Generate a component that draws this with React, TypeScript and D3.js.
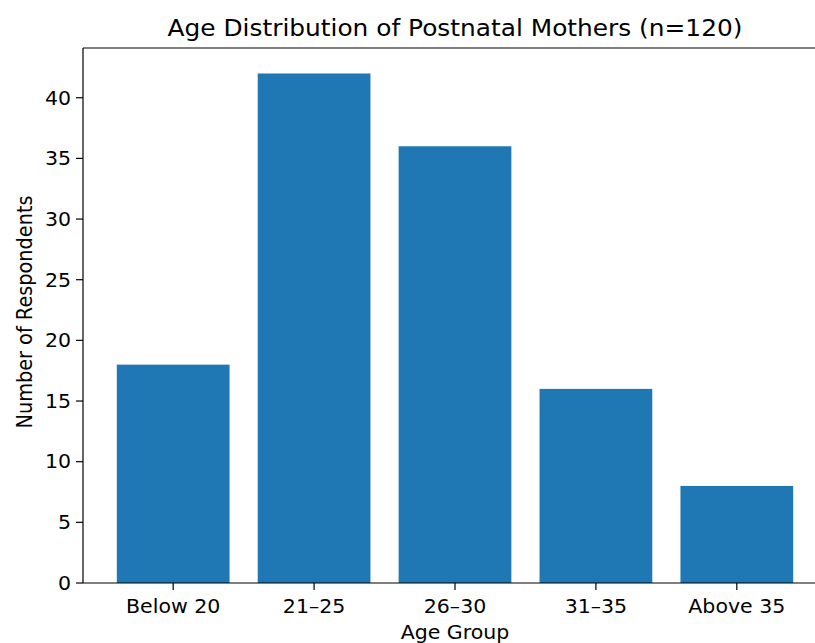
import React from "react";
import * as d3 from "d3";

const categories = ["Below 20", "21–25", "26–30", "31–35", "Above 35"];
const counts = [18, 42, 36, 16, 8];
const yTicks = [0, 5, 10, 15, 20, 25, 30, 35, 40];

const W = 815;
const H = 643;
const M = { left: 83, top: 48, bottom: 583 };
const axesRight = 827;
const FS = 19;
const HS = 1.08;

export default function App() {
  const x = d3
    .scaleLinear()
    .domain([-0.64, categories.length - 1 + 0.64])
    .range([M.left, axesRight]);
  const y = d3.scaleLinear().domain([0, 44.1]).range([M.bottom, M.top]);
  const bw = x(0.4) - x(-0.4);
  const cx = (M.left + axesRight) / 2;

  const txt = (
    tx: number,
    ty: number,
    s: string,
    anchor: string,
    size: number,
    hs: number = HS
  ) => (
    <text
      transform={`translate(${tx},${ty}) scale(${hs},1)`}
      textAnchor={anchor as any}
      fontSize={size}
      fontFamily="DejaVu Sans"
      fill="#000"
    >
      {s}
    </text>
  );

  return (
    <svg
      width={W}
      height={H}
      style={{ position: "absolute", left: 0, top: 0, background: "#fff" }}
    >
      {counts.map((v, i) => (
        <rect
          key={i}
          x={x(i) - bw / 2}
          y={y(v)}
          width={bw}
          height={y(0) - y(v)}
          fill="#1f77b4"
        />
      ))}
      <line x1={M.left} x2={M.left} y1={M.top} y2={M.bottom} stroke="#000" strokeWidth={1.2} />
      <line x1={M.left} x2={axesRight} y1={M.bottom} y2={M.bottom} stroke="#000" strokeWidth={1.2} />
      <line x1={M.left} x2={axesRight} y1={M.top} y2={M.top} stroke="#000" strokeWidth={1.2} />
      <line x1={axesRight} x2={axesRight} y1={M.top} y2={M.bottom} stroke="#000" strokeWidth={1.2} />
      {yTicks.map((t) => (
        <g key={t}>
          <line x1={M.left - 7} x2={M.left} y1={y(t)} y2={y(t)} stroke="#000" strokeWidth={1.2} />
          {txt(M.left - 12, y(t) + 6.8, String(t), "end", FS)}
        </g>
      ))}
      {categories.map((c, i) => (
        <g key={c}>
          <line x1={x(i)} x2={x(i)} y1={M.bottom} y2={M.bottom + 7} stroke="#000" strokeWidth={1.2} />
          {txt(x(i), 613, c, "middle", FS)}
        </g>
      ))}
      {txt(cx, 639, "Age Group", "middle", FS)}
      <text
        transform={`translate(32,312) rotate(-90) scale(1,${HS})`}
        textAnchor="middle"
        fontSize={19.3}
        fontFamily="DejaVu Sans"
        fill="#000"
      >
        Number of Respondents
      </text>
      {txt(cx, 36, "Age Distribution of Postnatal Mothers (n=120)", "middle", 22.8, 1.09)}
    </svg>
  );
}
